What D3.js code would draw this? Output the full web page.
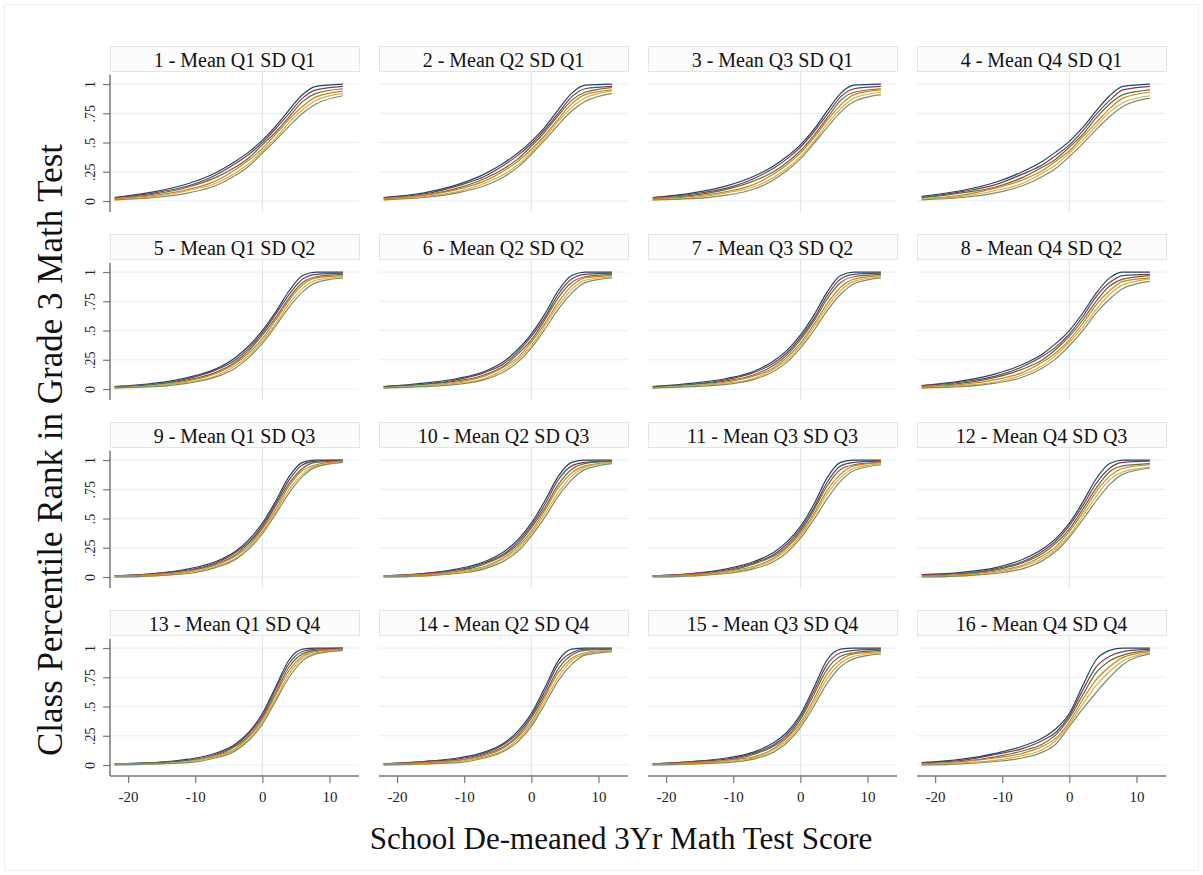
<!DOCTYPE html>
<html><head><meta charset="utf-8">
<script src="https://cdn.jsdelivr.net/npm/d3@7"></script>
<style>html,body{margin:0;padding:0;background:#fff;}svg{display:block;}</style>
</head><body>
<script>
const panelTitles = ["1 - Mean Q1 SD Q1","2 - Mean Q2 SD Q1","3 - Mean Q3 SD Q1","4 - Mean Q4 SD Q1",
"5 - Mean Q1 SD Q2","6 - Mean Q2 SD Q2","7 - Mean Q3 SD Q2","8 - Mean Q4 SD Q2",
"9 - Mean Q1 SD Q3","10 - Mean Q2 SD Q3","11 - Mean Q3 SD Q3","12 - Mean Q4 SD Q3",
"13 - Mean Q1 SD Q4","14 - Mean Q2 SD Q4","15 - Mean Q3 SD Q4","16 - Mean Q4 SD Q4"];
const xVals = [-22,-16,-11,-7,-4,-2,0,2,4,6,8,12];
const seriesColors = ["#1a476f","#90353b","#55752f","#e37e00","#c9b15a","#6e8e84"];
const yTicks = [0,0.25,0.5,0.75,1];
const yTickLabels = ["0",".25",".5",".75","1"];
const xTicks = [-20,-10,0,10];
const xTickLabels = ["-20","-10","0","10"];
const xTitle = "School De-meaned 3Yr Math Test Score";
const yTitle = "Class Percentile Rank in Grade 3 Math Test";

const p1 = [[.03,.08,.15,.24,.34,.42,.52,.64,.78,.91,.98,1.00],[.03,.07,.13,.22,.32,.40,.50,.62,.75,.88,.95,.98],[.02,.06,.12,.20,.29,.37,.48,.59,.72,.85,.92,.96],[.02,.05,.10,.17,.27,.35,.45,.57,.70,.81,.89,.94],[.01,.04,.09,.15,.24,.32,.43,.54,.67,.78,.86,.92],[.01,.03,.07,.13,.22,.30,.41,.52,.64,.75,.83,.90]];
const p2 = [[.03,.07,.14,.23,.33,.41,.51,.63,.78,.92,.99,1.00],[.03,.06,.13,.21,.31,.39,.49,.61,.75,.89,.96,.98],[.02,.05,.11,.19,.28,.36,.47,.59,.73,.86,.93,.97],[.02,.05,.10,.17,.26,.34,.44,.56,.70,.83,.91,.95],[.01,.04,.08,.15,.23,.31,.42,.54,.68,.80,.88,.94],[.01,.03,.07,.13,.21,.29,.40,.52,.65,.77,.85,.92]];
const p3 = [[.03,.07,.13,.21,.30,.38,.48,.61,.77,.92,.99,1.00],[.03,.06,.11,.19,.28,.36,.46,.59,.74,.89,.96,.98],[.02,.05,.10,.17,.25,.33,.43,.56,.71,.86,.93,.96],[.02,.04,.08,.14,.23,.31,.41,.54,.69,.82,.91,.95],[.01,.03,.07,.12,.20,.28,.38,.51,.66,.79,.88,.93],[.01,.02,.05,.10,.18,.26,.36,.49,.63,.76,.85,.91]];
const p4 = [[.04,.09,.16,.25,.34,.42,.51,.63,.77,.90,.98,1.00],[.03,.08,.14,.23,.31,.39,.48,.60,.74,.86,.95,.98],[.03,.07,.12,.20,.29,.36,.46,.57,.71,.83,.91,.95],[.02,.05,.11,.18,.26,.34,.43,.55,.67,.79,.88,.93],[.02,.04,.09,.15,.24,.31,.41,.52,.64,.76,.84,.90],[.01,.03,.07,.13,.21,.28,.38,.49,.61,.72,.81,.88]];
const p5 = [[.02,.05,.10,.17,.27,.37,.50,.66,.84,.97,1.00,1.00],[.02,.04,.09,.16,.25,.35,.48,.64,.81,.94,.98,.99],[.02,.04,.08,.14,.23,.33,.46,.61,.78,.91,.96,.98],[.01,.03,.07,.13,.22,.31,.43,.59,.76,.89,.95,.97],[.01,.03,.06,.11,.20,.29,.41,.56,.73,.86,.93,.96],[.01,.02,.05,.10,.18,.27,.39,.54,.70,.83,.91,.95]];
const p6 = [[.02,.05,.09,.15,.24,.34,.47,.64,.84,.97,1.00,1.00],[.02,.04,.08,.14,.22,.32,.45,.61,.81,.94,.98,.99],[.02,.04,.07,.12,.20,.30,.42,.59,.78,.91,.96,.98],[.01,.03,.06,.11,.19,.27,.40,.56,.74,.88,.95,.97],[.01,.03,.05,.09,.17,.25,.37,.54,.71,.85,.93,.96],[.01,.02,.04,.08,.15,.23,.35,.51,.68,.82,.91,.95]];
const p7 = [[.02,.05,.09,.15,.24,.33,.46,.63,.83,.97,1.00,1.00],[.02,.04,.08,.14,.22,.31,.44,.60,.80,.94,.98,.99],[.02,.04,.07,.12,.20,.29,.42,.58,.77,.91,.96,.98],[.01,.03,.06,.11,.18,.27,.39,.55,.73,.87,.94,.97],[.01,.03,.05,.09,.17,.25,.37,.53,.70,.84,.92,.96],[.01,.02,.04,.08,.15,.23,.35,.50,.67,.81,.90,.95]];
const p8 = [[.03,.07,.13,.21,.30,.39,.50,.65,.82,.95,1.00,1.00],[.03,.06,.11,.19,.28,.36,.47,.62,.79,.91,.97,.98],[.02,.05,.10,.17,.25,.34,.45,.59,.75,.88,.94,.97],[.02,.04,.08,.14,.23,.31,.42,.56,.72,.84,.92,.95],[.01,.03,.06,.12,.20,.29,.40,.53,.68,.81,.89,.94],[.01,.02,.05,.10,.18,.26,.37,.50,.65,.77,.86,.92]];
const p9 = [[.01,.03,.07,.13,.22,.32,.46,.65,.86,.98,1.00,1.00],[.01,.03,.06,.12,.21,.30,.44,.63,.83,.96,.99,1.00],[.01,.02,.05,.11,.19,.29,.42,.61,.80,.93,.98,.99],[.01,.02,.05,.10,.18,.27,.41,.58,.78,.91,.96,.99],[.00,.01,.04,.09,.16,.26,.39,.56,.75,.88,.95,.98],[.00,.01,.03,.08,.15,.24,.37,.54,.72,.86,.94,.98]];
const p10 = [[.01,.03,.07,.13,.22,.32,.46,.65,.86,.98,1.00,1.00],[.01,.03,.06,.12,.20,.30,.44,.62,.83,.95,.98,.99],[.01,.02,.05,.11,.19,.28,.42,.59,.79,.92,.97,.99],[.01,.02,.05,.09,.17,.26,.39,.57,.76,.89,.95,.98],[.00,.01,.04,.08,.16,.24,.37,.54,.72,.86,.94,.98],[.00,.01,.03,.07,.14,.22,.35,.51,.69,.83,.92,.97]];
const p11 = [[.01,.03,.07,.13,.21,.30,.43,.62,.85,.98,1.00,1.00],[.01,.03,.06,.12,.19,.28,.41,.59,.81,.95,.98,.99],[.01,.02,.05,.11,.18,.26,.39,.57,.78,.92,.96,.98],[.01,.02,.05,.09,.16,.25,.37,.54,.74,.88,.95,.98],[.00,.01,.04,.08,.15,.23,.35,.52,.71,.85,.93,.97],[.00,.01,.03,.07,.13,.21,.33,.49,.67,.82,.91,.96]];
const p12 = [[.02,.04,.08,.15,.24,.33,.46,.64,.84,.97,1.00,1.00],[.02,.03,.07,.13,.22,.31,.44,.61,.80,.93,.98,.99],[.01,.03,.06,.12,.20,.29,.41,.58,.76,.90,.95,.97],[.01,.02,.05,.10,.18,.26,.39,.55,.73,.86,.93,.96],[.00,.01,.04,.09,.16,.24,.36,.52,.69,.83,.90,.94],[.00,.01,.03,.07,.14,.22,.34,.49,.65,.79,.88,.93]];
const p13 = [[.01,.02,.05,.10,.18,.28,.44,.67,.90,.99,1.00,1.00],[.01,.02,.04,.09,.17,.27,.42,.65,.87,.97,.99,1.00],[.01,.02,.04,.08,.16,.25,.40,.62,.84,.95,.98,.99],[.01,.01,.03,.08,.14,.24,.39,.60,.81,.93,.97,.99],[.00,.01,.03,.07,.13,.22,.37,.57,.78,.91,.96,.98],[.00,.01,.02,.06,.12,.21,.35,.55,.75,.89,.95,.98]];
const p14 = [[.01,.03,.06,.11,.19,.29,.44,.66,.89,.99,1.00,1.00],[.01,.03,.05,.10,.18,.27,.42,.63,.86,.96,.99,.99],[.01,.02,.04,.09,.16,.25,.40,.60,.82,.94,.98,.99],[.01,.02,.04,.08,.15,.24,.37,.58,.79,.91,.96,.98],[.00,.01,.03,.07,.13,.22,.35,.55,.75,.89,.95,.98],[.00,.01,.02,.06,.12,.20,.33,.52,.72,.86,.94,.97]];
const p15 = [[.01,.03,.06,.11,.19,.28,.43,.66,.90,.99,1.00,1.00],[.01,.03,.05,.10,.17,.26,.41,.63,.86,.96,.98,.99],[.01,.02,.04,.09,.16,.24,.39,.60,.82,.93,.96,.98],[.01,.02,.04,.07,.14,.23,.36,.56,.78,.90,.95,.97],[.00,.01,.03,.06,.13,.21,.34,.53,.74,.87,.93,.96],[.00,.01,.02,.05,.11,.19,.32,.50,.70,.84,.91,.95]];
const p16 = [[.02,.05,.10,.16,.23,.31,.44,.68,.90,.98,1.00,1.00],[.02,.04,.09,.14,.21,.28,.42,.64,.84,.93,.97,.99],[.01,.03,.07,.12,.18,.26,.40,.60,.79,.89,.94,.98],[.01,.03,.06,.10,.16,.23,.37,.56,.73,.84,.92,.97],[.00,.02,.04,.08,.13,.21,.35,.52,.68,.80,.89,.96],[.00,.01,.03,.06,.11,.18,.33,.48,.62,.75,.86,.95]];
const panels = [p1,p2,p3,p4,p5,p6,p7,p8,p9,p10,p11,p12,p13,p14,p15,p16];

const W = 1203, H = 875;
const svg = d3.select("body").append("svg").attr("width", W).attr("height", H);
svg.append("rect").attr("width", W).attr("height", H).attr("fill", "#fff");
svg.append("rect").attr("x", 4.5).attr("y", 4.5).attr("width", W - 9).attr("height", H - 9)
  .attr("fill", "none").attr("stroke", "#f0f0f0");

const serif = "'Liberation Serif','Times New Roman',serif";
const colX0 = 110, colStep = 269, rowY0 = 46, rowStep = 188;
const stripH = 26, plotW = 249, plotH = 140;

const x = d3.scaleLinear().domain([-22.7, 14.4]).range([0, plotW]);
const y = d3.scaleLinear().domain([-0.094, 1.103]).range([plotH, 0]);
const line = d3.line().x((d, i) => x(xVals[i])).y(d => y(d)).curve(d3.curveMonotoneX);

panels.forEach((series, k) => {
  const r = Math.floor(k / 4), c = k % 4;
  const gx = colX0 + c * colStep, gy = rowY0 + r * rowStep;
  const g = svg.append("g").attr("transform", `translate(${gx},${gy})`);
  g.append("rect").attr("x", 0.5).attr("y", 0.5).attr("width", plotW).attr("height", stripH - 1)
    .attr("fill", "#fcfcfc").attr("stroke", "#e4e4e4");
  g.append("text").attr("x", plotW / 2).attr("y", 21).attr("text-anchor", "middle")
    .attr("font-family", serif).attr("font-size", 20).attr("fill", "#111").text(panelTitles[k]);
  const p = g.append("g").attr("transform", `translate(0,${stripH})`);
  p.selectAll("line.hg").data(yTicks).join("line").attr("class", "hg")
    .attr("x1", 0).attr("x2", plotW).attr("y1", d => y(d)).attr("y2", d => y(d))
    .attr("stroke", "#e9eef1").attr("stroke-width", 1);
  p.append("line").attr("x1", x(0)).attr("x2", x(0)).attr("y1", 0).attr("y2", plotH)
    .attr("stroke", "#d9e3ea").attr("stroke-width", 1);
  series.forEach((s, i) => {
    p.append("path").attr("d", line(s)).attr("fill", "none")
      .attr("stroke", seriesColors[i]).attr("stroke-width", 1.2);
  });
  if (c === 0) {
    const ya = d3.axisLeft(y).tickValues(yTicks).tickSize(7).tickFormat((d, i) => yTickLabels[i]);
    const ag = p.append("g").call(ya);
    ag.select(".domain").attr("d", `M0,${y(1.08)}V${plotH}`).attr("stroke", "#777").attr("stroke-width", 1.5);
    ag.selectAll(".tick line").attr("stroke", "#777").attr("stroke-width", 1.2);
    ag.selectAll(".tick text").attr("font-family", serif).attr("font-size", 14).attr("fill", "#222")
      .attr("transform", "rotate(-90)").attr("x", 0).attr("y", -15).attr("dy", "0")
      .attr("text-anchor", "middle");
  }
  if (r === 3) {
    const xa = d3.axisBottom(x).tickValues(xTicks).tickSize(7).tickFormat((d, i) => xTickLabels[i]);
    const ag = p.append("g").attr("transform", `translate(0,${plotH})`).call(xa);
    ag.select(".domain").attr("d", `M0,0H${plotW}`).attr("stroke", "#777").attr("stroke-width", 1.5);
    ag.selectAll(".tick line").attr("stroke", "#777").attr("stroke-width", 1.2);
    ag.selectAll(".tick text").attr("font-family", serif).attr("font-size", 15).attr("fill", "#222")
      .attr("y", 15).attr("dy", "0.71em");
  }
});

svg.append("text").attr("x", 621).attr("y", 849).attr("text-anchor", "middle")
  .attr("font-family", serif).attr("font-size", 31).attr("fill", "#111").text(xTitle);
svg.append("text").attr("transform", "translate(62,450) rotate(-90)").attr("text-anchor", "middle")
  .attr("font-family", serif).attr("font-size", 35).attr("fill", "#111").text(yTitle);
</script>
</body></html>
